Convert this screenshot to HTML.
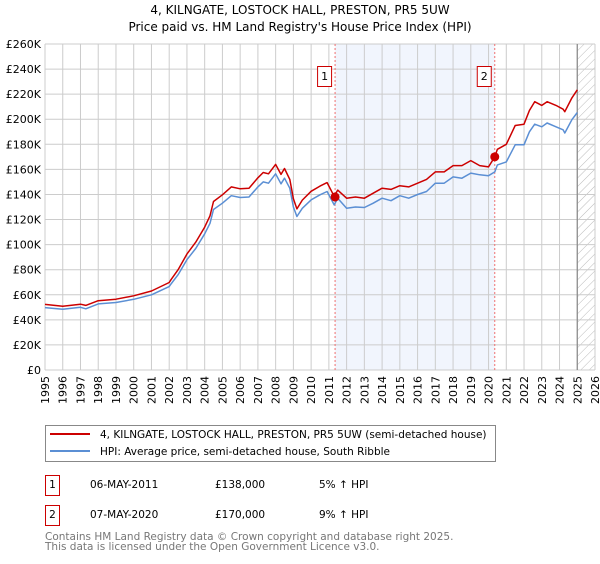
<!DOCTYPE html>
<html><head><meta charset="utf-8">
<style>
body{margin:0;background:#fff;font-family:"DejaVu Sans","Liberation Sans",sans-serif;}
svg text{font-family:"DejaVu Sans","Liberation Sans",sans-serif;}
</style></head>
<body>
<svg id="chart" width="600" height="560" xmlns="http://www.w3.org/2000/svg">
<defs>
<pattern id="hatch" width="6" height="6" patternUnits="userSpaceOnUse" patternTransform="rotate(45)">
<line x1="0" y1="0" x2="0" y2="6" stroke="#bbb" stroke-width="1"/>
</pattern>
</defs>
<text x="300" y="14" text-anchor="middle" font-size="12">4, KILNGATE, LOSTOCK HALL, PRESTON, PR5 5UW</text>
<text x="300" y="31" text-anchor="middle" font-size="12">Price paid vs. HM Land Registry's House Price Index (HPI)</text>
<g id="plot"></g>
<g>
<rect x="45.5" y="425.5" width="450" height="36" fill="#fff" stroke="#888"/>
<line x1="50" y1="434" x2="90" y2="434" stroke="#cc0000" stroke-width="2"/>
<text x="100" y="438" font-size="10.5">4, KILNGATE, LOSTOCK HALL, PRESTON, PR5 5UW (semi-detached house)</text>
<line x1="50" y1="451" x2="90" y2="451" stroke="#5b8fd4" stroke-width="2"/>
<text x="100" y="455" font-size="10.5">HPI: Average price, semi-detached house, South Ribble</text>
</g>
<g font-size="10.5">
<rect x="45.5" y="475.5" width="14" height="20" fill="#fff" stroke="#cc0000"/>
<text x="52.5" y="488" text-anchor="middle">1</text>
<text x="90" y="488">06-MAY-2011</text>
<text x="215" y="488">£138,000</text>
<text x="319" y="488">5% ↑ HPI</text>
<rect x="45.5" y="505.5" width="14" height="20" fill="#fff" stroke="#cc0000"/>
<text x="52.5" y="518" text-anchor="middle">2</text>
<text x="90" y="518">07-MAY-2020</text>
<text x="215" y="518">£170,000</text>
<text x="319" y="518">9% ↑ HPI</text>
</g>
<g font-size="10.5" fill="#777">
<text x="45" y="540">Contains HM Land Registry data © Crown copyright and database right 2025.</text>
<text x="45" y="550">This data is licensed under the Open Government Licence v3.0.</text>
</g>
</svg>
<script>
const years=[1995,1996,1997,1997.3,1998,1999,2000,2001,2002,2002.1,2002.5,2003,2003.5,2004,2004.3,2004.5,2005,2005.5,2006,2006.5,2007,2007.3,2007.6,2008,2008.3,2008.5,2008.8,2009,2009.2,2009.5,2010,2010.5,2010.9,2011.3,2011.5,2012,2012.5,2013,2013.5,2014,2014.5,2015,2015.5,2016,2016.5,2017,2017.5,2018,2018.5,2019,2019.5,2020,2020.35,2020.5,2021,2021.5,2022,2022.3,2022.6,2023,2023.3,2023.8,2024.2,2024.3,2024.7,2025];
const hpi=[49.8,48.4,50,48.8,52.7,53.8,56.4,60,66.5,68.6,76,88,97,108.6,117,128,133,139,137.6,138,146,150,149,156.5,148.5,153,145,130,122.4,129,135.7,139.7,142.4,131.7,137,129,130,129.6,133,137,135,139,137,140,142.4,149,149,154,153,157,155.7,155,158,163.6,166,179.6,179.6,190,196,194,197,194,191.6,189,199.6,205.4];
const paid=[52.3,50.8,52.5,51.5,55.3,56.5,59.2,63,69.8,72,80,92.4,102,114,123,134.4,139.7,146,144.5,145,153.3,157.5,156.5,164,156,160.7,152,136.5,128.5,135.5,142.5,146.7,149.5,138.5,143.5,137,138,137,141,145,144,147,146,149,152,158,158,163,163,167,163,162,170,176,180,195,196,207,214,211,214,211,208,206,217,223.5];
const sales=[{label:"1",year:2011.35,value:138},{label:"2",year:2020.35,value:170}];
const yTicks=[0,20,40,60,80,100,120,140,160,180,200,220,240,260];
const xTicks=[1995,1996,1997,1998,1999,2000,2001,2002,2003,2004,2005,2006,2007,2008,2009,2010,2011,2012,2013,2014,2015,2016,2017,2018,2019,2020,2021,2022,2023,2024,2025,2026];

const L=45,R=595,T=44,B=370,X0=1995,X1=2026,YMAX=260;
const xs=v=>L+(v-X0)/(X1-X0)*(R-L);
const ys=v=>B-v/YMAX*(B-T);
const NS="http://www.w3.org/2000/svg";
const plot=document.getElementById('plot');
function mk(tag,attrs,parent){const e=document.createElementNS(NS,tag);for(const k in attrs)e.setAttribute(k,attrs[k]);(parent||plot).appendChild(e);return e;}

const sh=mk('rect',{x:xs(sales[0].year),y:T,width:xs(sales[1].year)-xs(sales[0].year),height:B-T,fill:'#eef2fc',opacity:0.8});


const hz=mk('rect',{x:xs(2025),y:T,width:R-xs(2025),height:B-T,fill:'url(#hatch)'});


yTicks.forEach(t=>{
  const g=mk('line',{x1:L,x2:R,y1:ys(t),y2:ys(t),stroke:'#ccc','stroke-width':1});
  
  
  const tx=mk('text',{x:L-4,y:ys(t)+4,'text-anchor':'end','font-size':11});
  tx.textContent=t===0?'£0':'£'+t+'K';
  
  
});
xTicks.forEach(t=>{
  const g=mk('line',{x1:xs(t),x2:xs(t),y1:T,y2:B,stroke:'#ccc','stroke-width':1});
  
  
  const tx=mk('text',{x:0,y:0,'text-anchor':'end','font-size':11,transform:`translate(${xs(t)+4},${B+6}) rotate(-90)`});
  tx.textContent=t;
  
  
});
const nl=mk('line',{x1:xs(2025),x2:xs(2025),y1:T,y2:B,stroke:'#888','stroke-width':1.2});


sales.forEach(s=>{
  const l=mk('line',{x1:xs(s.year),x2:xs(s.year),y1:T,y2:B,stroke:'#f07070','stroke-width':1,'stroke-dasharray':'2,2'});
  
  
});
function pts(arr){return arr.map((v,i)=>xs(years[i]).toFixed(1)+','+ys(v).toFixed(1)).join(' ');}
const hl=mk('polyline',{points:pts(hpi),fill:'none',stroke:'#5b8fd4','stroke-width':1.5,'stroke-linejoin':'round'});


const pl=mk('polyline',{points:pts(paid),fill:'none',stroke:'#cc0000','stroke-width':1.5,'stroke-linejoin':'round'});


sales.forEach(s=>{
  const c=mk('circle',{cx:xs(s.year),cy:ys(s.value),r:4.5,fill:'#cc0000'});
  
  
  const bx=mk('rect',{x:xs(s.year)-17.5,y:66.5,width:14,height:20,fill:'#fff',stroke:'#cc0000'});
  
  
  const tx=mk('text',{x:xs(s.year)-10.5,y:80,'text-anchor':'middle','font-size':11});
  tx.textContent=s.label;
  
  
});
</script>
</body></html>
